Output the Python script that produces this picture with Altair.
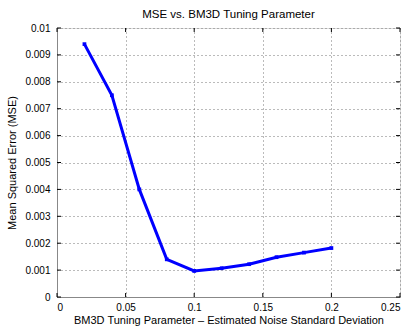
import altair as alt
import pandas as pd

sigma = [0.02, 0.04, 0.06, 0.08, 0.10, 0.12, 0.14, 0.16, 0.18, 0.20]
mse = [0.0094, 0.0075, 0.0040, 0.0014, 0.00097, 0.00107, 0.00122, 0.00148, 0.00165, 0.00182]
x_ticks = [0, 0.05, 0.10, 0.15, 0.20, 0.25]
y_ticks = [0, 0.001, 0.002, 0.003, 0.004, 0.005, 0.006, 0.007, 0.008, 0.009, 0.01]

W, H = 343, 269
FONT = "Liberation Sans"

df = pd.DataFrame({"sigma": sigma, "mse": mse})
xt = pd.DataFrame({"sigma": x_ticks})
yt = pd.DataFrame({"mse": y_ticks})

xs = alt.Scale(domain=[0, 0.25], nice=False, zero=False)
ys = alt.Scale(domain=[0, 0.01], nice=False, zero=False)

xaxis = alt.Axis(values=x_ticks, format="~g", tickSize=0, labelPadding=5,
                 labelOverlap=False,
                 grid=True, gridDash=[1, 3], gridColor="#777777",
                 title="BM3D Tuning Parameter \u2013 Estimated Noise Standard Deviation",
                 titlePadding=2, titleFontWeight="normal")
yaxis = alt.Axis(values=y_ticks, format="~g", tickSize=0, labelPadding=7,
                 labelOverlap=False,
                 grid=True, gridDash=[1, 3], gridColor="#777777",
                 title="Mean Squared Error (MSE)", titlePadding=7,
                 titleFontWeight="normal")

X = alt.X("sigma:Q", scale=xs, axis=xaxis)
Y = alt.Y("mse:Q", scale=ys, axis=yaxis)

line = alt.Chart(df).mark_line(color="#0000ff", strokeWidth=3, point=alt.OverlayMarkDef(color="#0000ff", size=14, filled=True, shape="square")).encode(
    x=X, y=Y,
)

tick_x_bottom = alt.Chart(xt).mark_rule(color="black", strokeWidth=1).encode(
    x=X, y=alt.value(H), y2=alt.value(H - 4))
tick_x_top = alt.Chart(xt).mark_rule(color="black", strokeWidth=1).encode(
    x=X, y=alt.value(0), y2=alt.value(4))
tick_y_left = alt.Chart(yt).mark_rule(color="black", strokeWidth=1).encode(
    y=Y, x=alt.value(0), x2=alt.value(4))
tick_y_right = alt.Chart(yt).mark_rule(color="black", strokeWidth=1).encode(
    y=Y, x=alt.value(W), x2=alt.value(W - 4))

chart = alt.layer(line, tick_x_bottom, tick_x_top, tick_y_left, tick_y_right).properties(
    width=W, height=H,
    title=alt.TitleParams("MSE vs. BM3D Tuning Parameter", fontSize=11.5, fontWeight="normal",
                          font=FONT, anchor="middle", offset=3, color="black"),
    autosize=alt.AutoSizeParams(type="none"),
    padding={"left": 57, "top": 28, "right": 8, "bottom": 33},
).configure_view(stroke="black", strokeWidth=1).configure_axis(
    labelFont=FONT, titleFont=FONT, labelFontSize=9, titleFontSize=9.5,
    labelColor="black", titleColor="black", domain=False,
).configure(background="white")

chart.save("out.html", embed_options={"renderer": "svg", "actions": False})
